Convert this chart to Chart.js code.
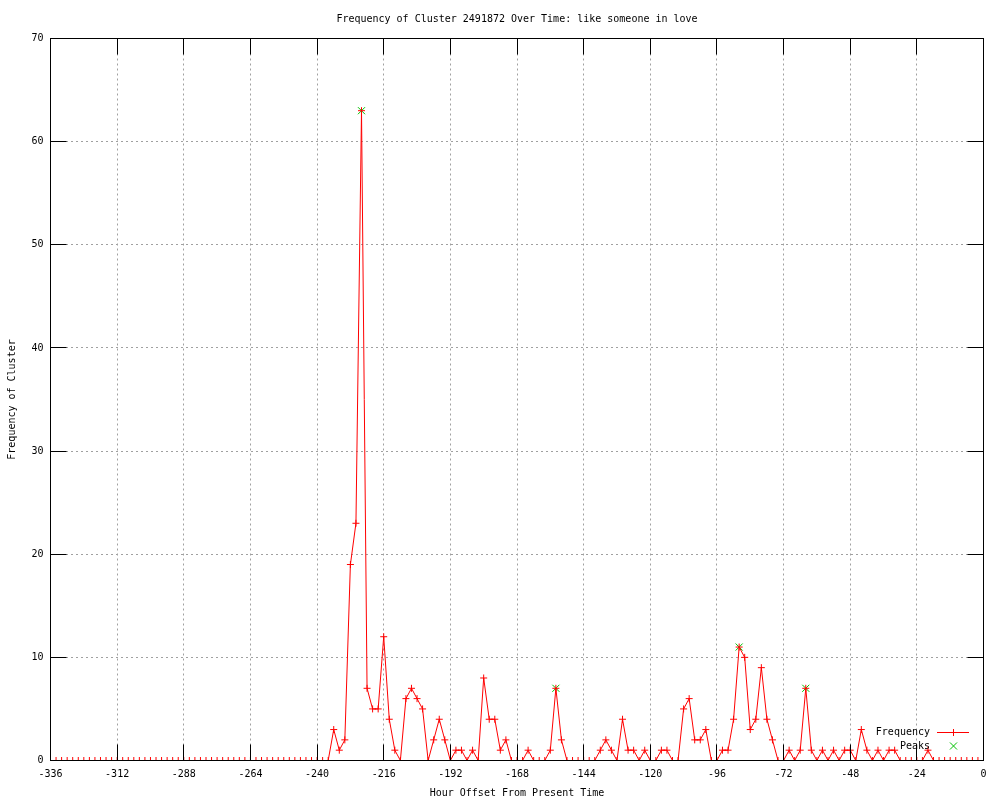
<!DOCTYPE html>
<html>
<head>
<meta charset="utf-8">
<script src="https://cdn.jsdelivr.net/npm/chart.js@4/dist/chart.umd.min.js"></script>
<style>
html,body{margin:0;padding:0;background:#ffffff;}
canvas{display:block;}
</style>
</head>
<body>
<canvas id="c" width="1000" height="800" style="width:1000px;height:800px"></canvas>
<script>
const chartTitle = 'Frequency of Cluster 2491872 Over Time: like someone in love';
const xAxisLabel = 'Hour Offset From Present Time';
const yAxisLabel = 'Frequency of Cluster';

const hours = [
  -336,-334,-332,-330,-328,-326,-324,-322,-320,-318,-316,-314,
  -312,-310,-308,-306,-304,-302,-300,-298,-296,-294,-292,-290,
  -288,-286,-284,-282,-280,-278,-276,-274,-272,-270,-268,-266,
  -264,-262,-260,-258,-256,-254,-252,-250,-248,-246,-244,-242,
  -240,-238,-236,-234,-232,-230,-228,-226,-224,-222,-220,-218,
  -216,-214,-212,-210,-208,-206,-204,-202,-200,-198,-196,-194,
  -192,-190,-188,-186,-184,-182,-180,-178,-176,-174,-172,-170,
  -168,-166,-164,-162,-160,-158,-156,-154,-152,-150,-148,-146,
  -144,-142,-140,-138,-136,-134,-132,-130,-128,-126,-124,-122,
  -120,-118,-116,-114,-112,-110,-108,-106,-104,-102,-100,-98,
  -96,-94,-92,-90,-88,-86,-84,-82,-80,-78,-76,-74,
  -72,-70,-68,-66,-64,-62,-60,-58,-56,-54,-52,-50,
  -48,-46,-44,-42,-40,-38,-36,-34,-32,-30,-28,-26,
  -24,-22,-20,-18,-16,-14,-12,-10,-8,-6,-4,-2,
  0
];

const frequency = [
  0,0,0,0,0,0,0,0,0,0,0,0,
  0,0,0,0,0,0,0,0,0,0,0,0,
  0,0,0,0,0,0,0,0,0,0,0,0,
  0,0,0,0,0,0,0,0,0,0,0,0,
  0,0,0,3,1,2,19,23,63,7,5,5,
  12,4,1,0,6,7,6,5,0,2,4,2,
  0,1,1,0,1,0,8,4,4,1,2,0,
  0,0,1,0,0,0,1,7,2,0,0,0,
  0,0,0,1,2,1,0,4,1,1,0,1,
  0,0,1,1,0,0,5,6,2,2,3,0,
  0,1,1,4,11,10,3,4,9,4,2,0,
  0,1,0,1,7,1,0,1,0,1,0,1,
  1,0,3,1,0,1,0,1,1,0,0,0,
  0,0,1,0,0,0,0,0,0,0,0,0,
  0
];

const peakHours = [-224, -154, -88, -64];
const peakValues = [63, 7, 11, 7];

const xTicks = [-336,-312,-288,-264,-240,-216,-192,-168,-144,-120,-96,-72,-48,-24,0];
const yTicks = [0,10,20,30,40,50,60,70];

const FONT = '"DejaVu Sans Mono", "Liberation Mono", monospace';
const RED = '#ff0000';
const GREEN = '#00c000';
const TICK_LEN = 16;

function align(p){ return Math.round(p - 0.5) + 0.5; }

const framePlugin = {
  id: 'frame',
  afterDatasetsDraw(chart) {
    const {ctx, chartArea: a, scales} = chart;
    const x = scales.x, y = scales.y;
    const L = align(a.left), R = align(a.right), T = align(a.top), B = align(a.bottom);
    ctx.save();
    ctx.strokeStyle = '#000000';
    ctx.lineWidth = 1;
    ctx.setLineDash([]);
    ctx.beginPath();
    xTicks.forEach(v => {
      const px = align(x.getPixelForValue(v));
      ctx.moveTo(px, B); ctx.lineTo(px, B - TICK_LEN);
      ctx.moveTo(px, T); ctx.lineTo(px, T + TICK_LEN);
    });
    yTicks.forEach(v => {
      const py = align(y.getPixelForValue(v));
      ctx.moveTo(L, py); ctx.lineTo(L + TICK_LEN, py);
      ctx.moveTo(R, py); ctx.lineTo(R - TICK_LEN, py);
    });
    ctx.stroke();
    ctx.strokeRect(L, T, R - L, B - T);
    ctx.restore();
  },
  afterDraw(chart) {
    const {ctx} = chart;
    const ds = chart.data.datasets;
    ctx.save();
    ctx.font = '10px ' + FONT;
    ctx.textAlign = 'right';
    ctx.textBaseline = 'middle';
    const textRight = 930, sampleL = 937, sampleR = 969, sampleC = 953;
    const rows = [732, 746];
    // Frequency entry
    ctx.fillStyle = '#000000';
    ctx.fillText(ds[0].label, textRight, rows[0]);
    ctx.strokeStyle = RED; ctx.fillStyle = RED; ctx.lineWidth = 1;
    ctx.beginPath();
    ctx.moveTo(sampleL, rows[0] + 0.5); ctx.lineTo(sampleR, rows[0] + 0.5);
    ctx.stroke();
    ctx.beginPath();
    ctx.moveTo(sampleC + 0.5, rows[0] + 0.5 - 3.5); ctx.lineTo(sampleC + 0.5, rows[0] + 0.5 + 3.5);
    ctx.stroke();
    // Peaks entry
    ctx.fillStyle = '#000000';
    ctx.fillText(ds[1].label, textRight, rows[1]);
    ctx.strokeStyle = GREEN; ctx.fillStyle = GREEN;
    Chart.helpers.drawPoint(ctx, {pointStyle: 'crossRot', radius: 5, rotation: 0, borderWidth: 1}, sampleC + 0.5, rows[1]);
    ctx.restore();
  }
};

const axisFont = {family: FONT, size: 10, weight: 'normal', lineHeight: 1.2};

new Chart(document.getElementById('c'), {
  type: 'line',
  data: {
    datasets: [
      {
        label: 'Frequency',
        data: hours.map((h, i) => ({x: h, y: frequency[i]})),
        borderColor: RED,
        backgroundColor: RED,
        borderWidth: 1,
        pointStyle: 'cross',
        pointRadius: 3.5,
        pointBorderWidth: 1,
        pointBorderColor: RED,
        pointBackgroundColor: RED,
        tension: 0,
        fill: false,
        order: 0
      },
      {
        label: 'Peaks',
        data: peakHours.map((h, i) => ({x: h, y: peakValues[i]})),
        showLine: false,
        borderColor: GREEN,
        backgroundColor: GREEN,
        pointStyle: 'crossRot',
        pointRadius: 5,
        pointBorderWidth: 1,
        pointBorderColor: GREEN,
        order: 1
      }
    ]
  },
  options: {
    responsive: false,
    animation: false,
    devicePixelRatio: 1,
    events: [],
    layout: {padding: {left: 0, right: 16.5, top: 0, bottom: 0}},
    plugins: {
      legend: {display: false},
      tooltip: {enabled: false},
      title: {
        display: true,
        text: chartTitle,
        color: '#000000',
        font: axisFont,
        padding: {top: 13, bottom: 13.5},
        fullSize: false
      }
    },
    scales: {
      x: {
        type: 'linear',
        min: -336,
        max: 0,
        afterBuildTicks(s) { s.ticks = xTicks.map(v => ({value: v})); },
        afterFit(s) { s.height = 39.5; },
        ticks: {color: '#000000', font: axisFont, padding: 8, maxRotation: 0, autoSkip: false},
        grid: {color: '#a0a0a0', lineWidth: 1, drawTicks: false},
        border: {display: false, dash: [2, 3]},
        title: {display: true, text: xAxisLabel, color: '#000000', font: axisFont, padding: {top: 0, bottom: 1}}
      },
      y: {
        type: 'linear',
        min: 0,
        max: 70,
        afterBuildTicks(s) { s.ticks = yTicks.map(v => ({value: v})); },
        afterFit(s) { s.width = 50.5; },
        ticks: {color: '#000000', font: axisFont, padding: 7, autoSkip: false},
        grid: {color: '#a0a0a0', lineWidth: 1, drawTicks: false},
        border: {display: false, dash: [2, 3]},
        title: {display: true, text: yAxisLabel, color: '#000000', font: axisFont, padding: {top: 6, bottom: 0}}
      }
    }
  },
  plugins: [framePlugin]
});
</script>
</body>
</html>
